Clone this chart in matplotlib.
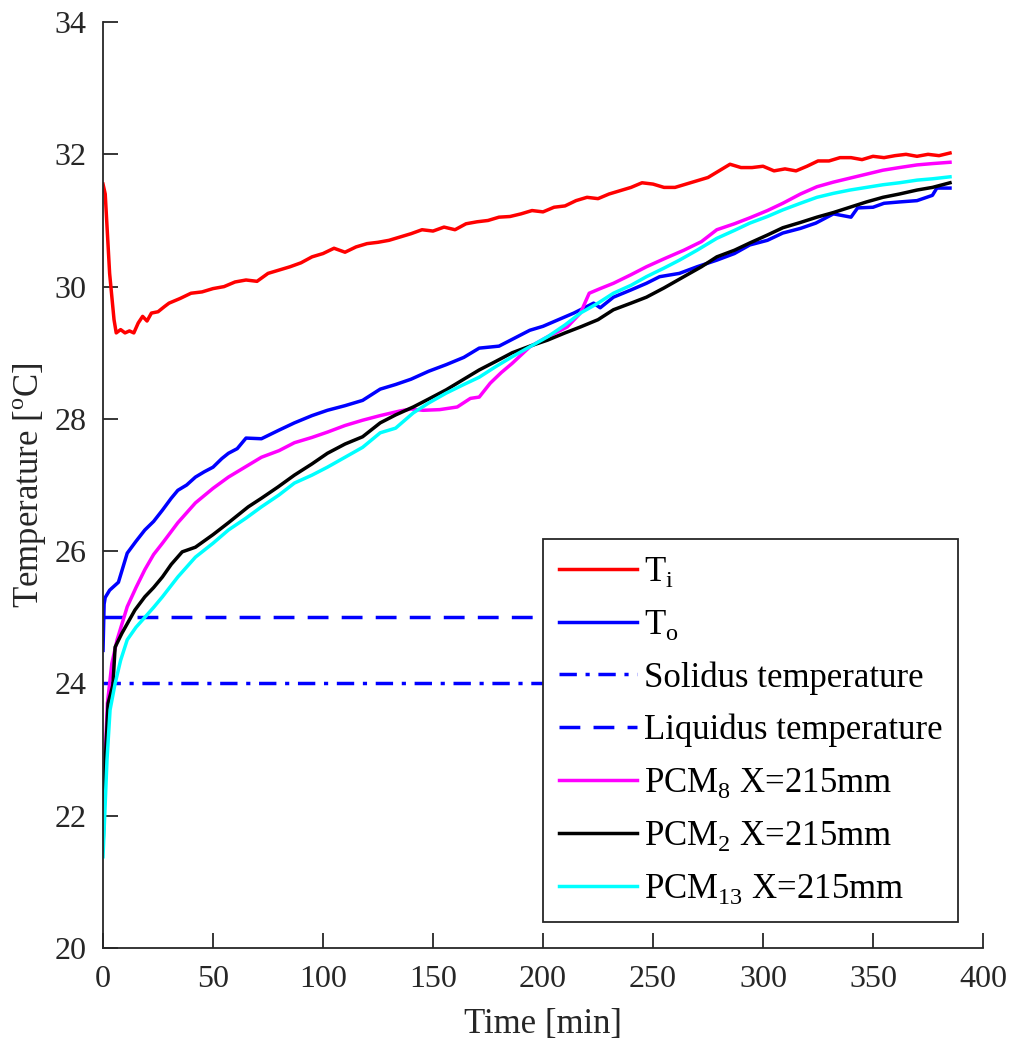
import numpy as np
import matplotlib
matplotlib.use("Agg")
import matplotlib.pyplot as plt

plt.rcParams['font.family'] = 'Liberation Serif'
plt.rcParams['mathtext.fontset'] = 'custom'
plt.rcParams['mathtext.rm'] = 'Liberation Serif'

# T_i (indoor)
t_red = [0, 1, 3, 5, 6, 8, 10, 12, 14, 16, 18, 20, 22, 25, 28, 30, 35, 40, 45, 50, 55, 60, 65, 70,
         75, 80, 85, 90, 95, 100, 105, 110, 115, 120, 125, 130, 135, 140, 145, 150, 155, 160, 165,
         170, 175, 180, 185, 190, 195, 200, 205, 210, 215, 220, 225, 230, 235, 240, 245, 250, 255,
         260, 265, 270, 275, 280, 285, 290, 295, 300, 305, 310, 315, 320, 325, 330, 335, 340, 345,
         350, 355, 360, 365, 370, 375, 380, 385]
T_red = [31.55, 31.4, 30.2, 29.5, 29.3, 29.35, 29.3, 29.33, 29.3, 29.45, 29.55, 29.48, 29.6, 29.62,
         29.7, 29.75, 29.82, 29.9, 29.92, 29.97, 30.0, 30.07, 30.1, 30.08, 30.2, 30.25, 30.3, 30.36,
         30.45, 30.5, 30.58, 30.52, 30.6, 30.65, 30.67, 30.7, 30.75, 30.8, 30.86, 30.84, 30.9, 30.86,
         30.95, 30.98, 31.0, 31.05, 31.06, 31.1, 31.15, 31.13, 31.2, 31.22, 31.3, 31.35, 31.33, 31.4,
         31.45, 31.5, 31.57, 31.55, 31.5, 31.5, 31.55, 31.6, 31.65, 31.75, 31.85, 31.8, 31.8, 31.82,
         31.75, 31.78, 31.75, 31.82, 31.9, 31.9, 31.95, 31.95, 31.92, 31.97, 31.95, 31.98, 32.0,
         31.97, 32.0, 31.98, 32.02]

# T_o (outdoor)
t_blue = [0, 0.5, 1, 3, 7, 11, 15, 19, 23, 27, 31, 34, 38, 42, 46, 50, 54, 57, 61, 65, 72, 80, 87,
          95, 102, 110, 118, 126, 133, 140, 148, 156, 164, 171, 180, 187, 194, 200, 207, 214, 220,
          223, 226, 232, 240, 247, 253, 262, 270, 279, 287, 294, 302, 309, 317, 324, 332, 340, 343,
          350, 355, 362, 370, 377, 379, 385]
T_blue = [24.5, 25.2, 25.3, 25.41, 25.53, 25.97, 26.15, 26.32, 26.45, 26.62, 26.8, 26.92, 27.0,
          27.12, 27.2, 27.27, 27.4, 27.48, 27.55, 27.71, 27.7, 27.83, 27.94, 28.05, 28.13, 28.2,
          28.28, 28.45, 28.52, 28.6, 28.72, 28.82, 28.93, 29.07, 29.1, 29.22, 29.34, 29.4, 29.5,
          29.6, 29.7, 29.75, 29.68, 29.84, 29.95, 30.05, 30.15, 30.2, 30.3, 30.4, 30.5, 30.63,
          30.7, 30.81, 30.88, 30.96, 31.1, 31.05, 31.19, 31.2, 31.26, 31.28, 31.3, 31.38, 31.49, 31.49]

# PCM8 X=215mm
t_mag = [0, 1, 2, 4, 6.4, 11, 15, 19, 23, 27, 34, 42, 50, 57, 65, 72, 80, 87, 95, 102, 110, 118,
         126, 135, 140, 145.5, 153, 161, 167, 171, 176, 181, 186, 194, 202, 211, 217, 221, 226, 232,
         240, 247, 255, 264, 272, 279, 287, 294, 302, 309, 317, 324.5, 332, 339.5, 347, 354.5, 362,
         370, 377, 385]
T_mag = [21.6, 22.9, 23.7, 24.3, 24.66, 25.16, 25.45, 25.72, 25.95, 26.12, 26.43, 26.73, 26.95,
         27.12, 27.28, 27.42, 27.52, 27.64, 27.72, 27.8, 27.9, 27.98, 28.05, 28.12, 28.15, 28.13,
         28.14, 28.18, 28.31, 28.33, 28.54, 28.7, 28.84, 29.09, 29.24, 29.39, 29.6, 29.9, 29.97,
         30.05, 30.18, 30.3, 30.42, 30.55, 30.68, 30.86, 30.95, 31.04, 31.15, 31.26, 31.4, 31.51,
         31.58, 31.64, 31.7, 31.76, 31.8, 31.84, 31.86, 31.88]

# PCM2 X=215mm
t_blk = [0, 1, 2.3, 4.5, 5.5, 8.6, 14.5, 19, 23, 27, 31, 36, 42, 50, 57, 66, 72, 79.5, 87, 95, 102,
         110, 118, 126, 133, 141, 148, 156, 164, 171, 178, 186, 194, 202, 210, 217, 225, 232, 240,
         247, 255, 264, 272, 279, 287, 294, 302, 309, 317, 324.5, 332, 339.5, 347, 354.5, 362, 370,
         377, 385]
T_blk = [21.5, 22.8, 23.7, 23.98, 24.55, 24.76, 25.11, 25.31, 25.45, 25.61, 25.8, 25.99, 26.06,
         26.25, 26.43, 26.67, 26.8, 26.97, 27.15, 27.32, 27.48, 27.62, 27.73, 27.94, 28.06, 28.18,
         28.3, 28.44, 28.6, 28.74, 28.86, 29.0, 29.1, 29.19, 29.3, 29.39, 29.5, 29.65, 29.75, 29.84,
         29.98, 30.15, 30.3, 30.45, 30.55, 30.66, 30.78, 30.89, 30.97, 31.05, 31.12, 31.2, 31.28,
         31.35, 31.4, 31.46, 31.5, 31.57]

# PCM13 X=215mm
t_cyn = [0, 1.8, 3.2, 5.5, 8, 11, 15, 19, 23, 27, 34, 42, 50, 57, 65, 72, 80, 87, 95, 102, 110, 118,
         126, 133, 141, 148, 156, 164, 171, 178, 186, 194, 202, 210, 217, 225, 232, 240, 247, 255,
         262, 270, 279, 287, 294, 302, 309, 317, 324.5, 332, 339.5, 347, 354.5, 362, 370, 377, 385]
T_cyn = [21.38, 22.84, 23.6, 24.0, 24.35, 24.66, 24.85, 25.0, 25.15, 25.31, 25.61, 25.91, 26.12,
         26.32, 26.5, 26.67, 26.85, 27.03, 27.15, 27.27, 27.42, 27.57, 27.79, 27.86, 28.09, 28.24,
         28.39, 28.52, 28.63, 28.78, 28.94, 29.09, 29.24, 29.42, 29.6, 29.75, 29.9, 30.02, 30.15,
         30.28, 30.4, 30.55, 30.73, 30.85, 30.96, 31.06, 31.16, 31.26, 31.35, 31.41, 31.46, 31.5,
         31.54, 31.57, 31.61, 31.63, 31.66]

t_flat = [0, 385]
T_solidus = [24, 24]
T_liquidus = [25, 25]

fig = plt.figure(figsize=(10.13, 10.45), dpi=100)
ax = fig.add_axes([0.1017, 0.0928, 0.8687, 0.8861])

lw = 2.5
ax.plot(t_red, T_red, color='#ff0000', lw=lw, label='T$_\\mathregular{i}$')
ax.plot(t_blue, T_blue, color='#0000ff', lw=lw, label='T$_\\mathregular{o}$')
ax.plot(t_flat, T_solidus, color='#0000ff', lw=lw, ls=(0, (5, 2.5, 1.2, 2.5)), label='Solidus temperature')
ax.plot(t_flat, T_liquidus, color='#0000ff', lw=lw, ls=(0, (6, 3.8)), label='Liquidus temperature')
ax.plot(t_mag, T_mag, color='#ff00ff', lw=lw, label='PCM$_\\mathregular{8}$ X=215mm')
ax.plot(t_blk, T_blk, color='#000000', lw=lw, label='PCM$_\\mathregular{2}$ X=215mm')
ax.plot(t_cyn, T_cyn, color='#00ffff', lw=lw, label='PCM$_\\mathregular{13}$ X=215mm')

ax.set_xlim(0, 400)
ax.set_ylim(20, 34)
ax.set_xticks(np.arange(0, 401, 50))
ax.set_yticks(np.arange(20, 35, 2))
ax.spines['top'].set_visible(False)
ax.spines['right'].set_visible(False)
for s in ['left', 'bottom']:
    ax.spines[s].set_color('#262626')
    ax.spines[s].set_linewidth(1.3)
ax.tick_params(direction='in', length=11, width=1.3, color='#262626', labelsize=23,
               labelcolor='#262626', pad=12)

ax.set_xlabel('Time [min]', fontsize=25, color='#262626', labelpad=10)
ax.set_ylabel('Temperature [$^\\mathregular{o}$C]', fontsize=25, color='#262626', labelpad=4)

leg = ax.legend(loc='lower right', bbox_to_anchor=(0.9716, 0.028), borderaxespad=0,
                fontsize=25, frameon=True, fancybox=False, framealpha=1, handlelength=2.25,
                handletextpad=0.2, labelspacing=0.55, borderpad=0.45)
leg.get_frame().set_edgecolor('#262626')
leg.get_frame().set_linewidth(1.3)

fig.savefig('out.png', dpi=100)
